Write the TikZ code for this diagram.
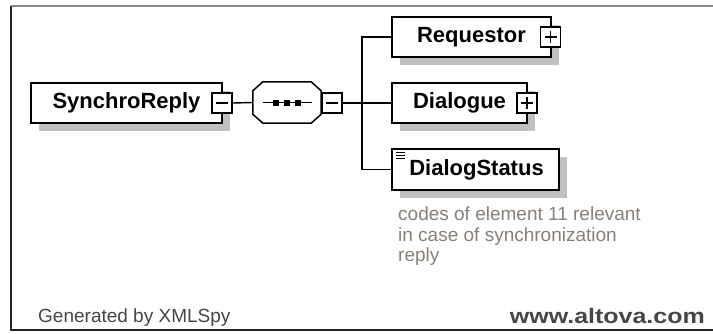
\documentclass[tikz,border=0pt]{standalone}
\usepackage{fontspec}
\setmainfont{Liberation Sans}
\newfontfamily\widesans[FakeStretch=1.19]{Liberation Sans}
\usetikzlibrary{shadows}
\definecolor{frametop}{RGB}{140,140,140}
\definecolor{framedark}{RGB}{35,35,35}
\definecolor{shadowgray}{RGB}{192,192,192}
\definecolor{notegray}{RGB}{135,128,120}
\definecolor{footgray}{RGB}{70,70,70}
\tikzset{
  elem/.style={draw=black, line width=1.6pt, fill=white, inner sep=0pt,
    font=\fontsize{22}{26}\selectfont\bfseries,
    general shadow={fill=shadowgray, shadow xshift=7.5pt, shadow yshift=-8pt}},
  toggle/.style={draw=black, line width=1.3pt, fill=white, inner sep=0pt,
    minimum width=20pt, minimum height=20pt},
  minusbox/.style={toggle, path picture={
    \draw[line width=1.2pt] ([xshift=-6pt]path picture bounding box.center) -- ([xshift=6pt]path picture bounding box.center);}},
  plusbox/.style={toggle, path picture={
    \draw[line width=1.2pt] ([xshift=-6pt]path picture bounding box.center) -- ([xshift=6pt]path picture bounding box.center);
    \draw[line width=1.2pt] ([yshift=-6pt]path picture bounding box.center) -- ([yshift=6pt]path picture bounding box.center);}},
  wire/.style={line width=1.4pt, draw=black},
  seqdot/.style={fill=black, inner sep=0pt, minimum size=6pt}
}
\begin{document}
\begin{tikzpicture}[x=1pt, y=-1pt]
\useasboundingbox (0,0) rectangle (713,333);
% frame
\draw[frametop, line width=1.6pt] (11,6) -- (713,6);
\draw[framedark, line width=1.4pt] (11,6) -- (11,330) -- (713,330);

% root element
\node[elem, minimum width=191pt, minimum height=40pt] (root) at (126.5,103) {SynchroReply\hspace{7pt}};
\node[minusbox] (rootm) at (222,103) {};

% sequence compositor (octagon)
\node[inner sep=0pt, minimum width=68pt, minimum height=41pt] (seq) at (287,102.5) {};
\fill[shadowgray, shift={(7.5,8)}]
  ([xshift=10pt]seq.north west) -- ([xshift=-10pt]seq.north east) -- ([yshift=-9pt]seq.north east)
  -- ([yshift=9pt]seq.south east) -- ([xshift=-10pt]seq.south east) -- ([xshift=10pt]seq.south west)
  -- ([yshift=9pt]seq.south west) -- ([yshift=-9pt]seq.north west) -- cycle;
\draw[line width=1.5pt, fill=white]
  ([xshift=10pt]seq.north west) -- ([xshift=-10pt]seq.north east) -- ([yshift=-9pt]seq.north east)
  -- ([yshift=9pt]seq.south east) -- ([xshift=-10pt]seq.south east) -- ([xshift=10pt]seq.south west)
  -- ([yshift=9pt]seq.south west) -- ([yshift=-9pt]seq.north west) -- cycle;
\coordinate (seqa) at ([xshift=10pt]seq.west);
\coordinate (seqb) at ([xshift=-9pt]seq.east);
\draw[line width=1.3pt] (seqa) -- (seqb);
\node[seqdot] (d1) at ([xshift=-11pt]seq.center) {};
\node[seqdot] (d2) at (seq.center) {};
\node[seqdot] (d3) at ([xshift=11pt]seq.center) {};
\node[minusbox] (seqm) at (332,103) {};

% child elements
\node[elem, minimum width=159pt, minimum height=40pt] (req) at (471.5,37) {Requestor\hspace{8pt}};
\node[plusbox] (reqp) at (550.5,37) {};
\node[elem, minimum width=135pt, minimum height=40pt] (dia) at (459.5,103) {Dialogue\hspace{6pt}};
\node[plusbox] (diap) at (527,103) {};
\node[elem, minimum width=167pt, minimum height=41pt] (dst) at (475.5,169.5) {\hspace{2pt}DialogStatus};
% simple-content marker
\draw[line width=1pt] (396,152) -- (405,152) (396,155) -- (405,155) (396,158) -- (405,158);

% connectors
\coordinate (bar) at (362,103);
\draw[wire] (rootm.east) -- (seq.west);
\draw[wire] (seqm.east) -- (bar);
\draw[wire] (req.west) -| (bar);
\draw[wire] (dst.west) -| (bar);
\draw[wire] (bar) -- (dia.west);

% annotation
\node[anchor=north west, inner sep=0pt, align=left, text=notegray,
  font=\fontsize{19}{20.5}\selectfont] (note) at (398,207)
  {codes of element 11 relevant\\in case of synchronization\\reply};

% footer
\node[anchor=base west, inner sep=0pt, text=footgray, font=\fontsize{19}{22}\selectfont] (gen) at (38,322) {Generated by XMLSpy};
\node[anchor=base east, inner sep=0pt, text=footgray, font=\widesans\fontsize{21}{24}\selectfont\bfseries] (url) at (705,323) {www.altova.com};
\end{tikzpicture}
\end{document}
